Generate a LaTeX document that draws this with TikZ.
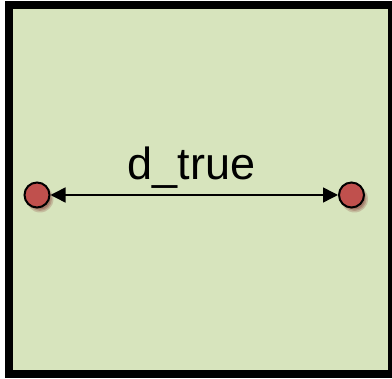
\documentclass[tikz,border=0pt]{standalone}
\usepackage{fontspec}
\setmainfont{Liberation Sans}
\usetikzlibrary{arrows.meta}
\definecolor{panelgreen}{HTML}{D7E4BD}
\definecolor{pointred}{HTML}{C0504D}
\definecolor{shadowred}{HTML}{8C4A44}
\begin{document}
\begin{tikzpicture}[x=1pt,y=-1pt,
  point/.style={circle,draw=black,line width=2pt,fill=pointred,
    minimum size=25pt,inner sep=0pt},
  measure/.style={line width=1.5pt,
    {Triangle[length=15pt,width=15pt]}-{Triangle[length=15pt,width=15pt]}},
  lbl/.style={font=\fontsize{45}{54}\selectfont,anchor=base,inner sep=0pt}]
  \useasboundingbox (0,0) rectangle (392,379);
  \fill[white] (0,0) rectangle (392,379);
  % panel
  \draw[line width=8pt,fill=panelgreen] (9,5.5) rectangle (392,374);
  % soft shadows under the points
  \foreach \cx in {37,351.5}{
    \foreach \r/\o in {13.5/0.25,12/0.3,10.5/0.4}
      \fill[shadowred,opacity=\o] (\cx+3,199) circle (\r);
  }
  % points
  \node[point] (a) at (37,195) {};
  \node[point] (b) at (351.5,195) {};
  % distance arrow and label
  \draw[measure] (a) -- (b);
  \node[lbl] (d) at (191.5,180) {d\_true};
\end{tikzpicture}
\end{document}
